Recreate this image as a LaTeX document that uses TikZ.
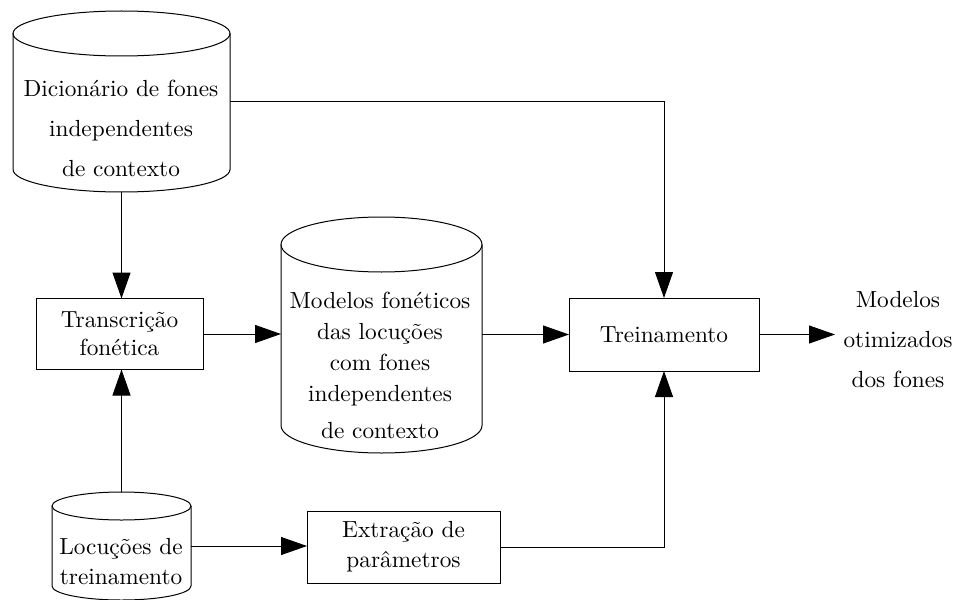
\documentclass[tikz,border=0pt]{standalone}
\usetikzlibrary{arrows.meta}

% Latin Modern at its 10pt design, scaled up for the large labels
\font\lmten="[lmroman10-regular]:mapping=tex-text" at 23.3pt

% Database symbol drawn around a (borderless) node: #1 node, #2 x radius, #3 y radius
\newcommand\dbshape[3]{%
  \draw[dbline] ([yshift=-#3]#1.north) ellipse [x radius=#2, y radius=#3];
  \draw[dbline] ([yshift=-#3]#1.north west) -- ([yshift=#3]#1.south west)
    arc [start angle=180, end angle=360, x radius=#2, y radius=#3]
    -- ([yshift=-#3]#1.north east);
}

\begin{document}
\begin{tikzpicture}[x=1pt, y=1pt,
  dbline/.style={line width=1pt},
  dbbody/.style={draw=none, inner sep=0pt, outer sep=0pt},
  procbox/.style={draw, line width=1pt, inner sep=0pt, outer sep=0pt},
  txt/.style={align=center, inner sep=0pt},
  flow/.style={line width=1pt, -{Triangle[length=26pt, width=18pt]}}
]
\useasboundingbox (0,0) rectangle (960,-599);
\clip (0,0) rectangle (960,-599);

% stores
\node[dbbody, minimum width=217pt, minimum height=181pt] (dict) at (121.5,-101.5) {};
\dbshape{dict}{108.5pt}{22.5pt}
\node[txt, font={\lmten\baselineskip=40pt}] (dicttext) at (121,-128)
  {Dicionário de fones\\independentes\\de contexto};

\node[dbbody, minimum width=201pt, minimum height=236pt] (models) at (381.5,-335) {};
\dbshape{models}{100.5pt}{27.5pt}
\node[txt, font={\lmten\baselineskip=31pt}] (modelstext) at (380,-365)
  {Modelos fonéticos\\das locuções\\com fones\\independentes\\[6pt]de contexto};

\node[dbbody, minimum width=139pt, minimum height=108pt] (loc) at (121.5,-546) {};
\dbshape{loc}{69.5pt}{14pt}
\node[txt, font={\lmten\baselineskip=30pt}] (loctext) at (121,-562)
  {Locuções de\\treinamento};

% processing steps
\node[procbox, minimum width=167pt, minimum height=71pt,
      font={\lmten\baselineskip=28pt}, align=center] (trans) at (119.5,-334)
  {Transcrição\\fonética};
\node[procbox, minimum width=190pt, minimum height=73pt,
      font=\lmten] (train) at (664,-334.5) {Treinamento};
\node[procbox, minimum width=193pt, minimum height=72pt,
      font={\lmten\baselineskip=30pt}, align=center] (extr) at (403.5,-547)
  {Extração de\\parâmetros};

% result
\node[txt, font={\lmten\baselineskip=40pt}] (out) at (898,-339.5)
  {Modelos\\otimizados\\dos fones};
\coordinate (outtip) at (835,-334.5);

% connectors
\draw[flow] (dict.south) -- (dict.south |- trans.north);
\draw[flow] (dict.east) -| (train.north);
\draw[flow] (trans.east) -- (trans.east -| models.west);
\draw[flow] (models.east |- train.west) -- (train.west);
\draw[flow] (train.east) -- (outtip);
\draw[flow] (loc.north) -- (loc.north |- trans.south);
\draw[flow] (loc.east) -- (loc.east -| extr.west);
\draw[flow] (extr.east) -| (train.south);
\end{tikzpicture}
\end{document}
